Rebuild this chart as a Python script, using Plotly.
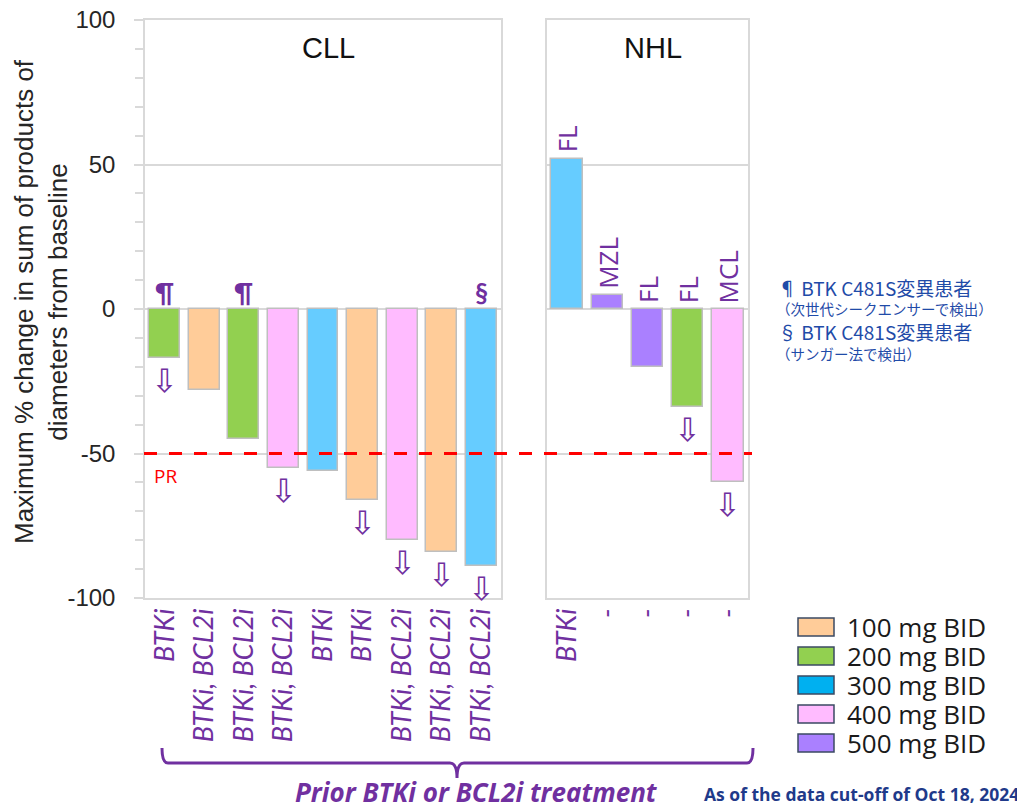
import plotly.graph_objects as go

# ---------------- data ----------------
cll_prior = ["BTKi", "BTKi, BCL2i", "BTKi, BCL2i", "BTKi, BCL2i", "BTKi",
             "BTKi", "BTKi, BCL2i", "BTKi, BCL2i", "BTKi, BCL2i"]
cll_values = [-17, -28, -45, -55, -56, -66, -80, -84, -89]
cll_dose = [200, 100, 200, 400, 300, 100, 400, 100, 300]
cll_marks = ["¶", "", "¶", "", "", "", "", "", "§"]
cll_ongoing = [True, False, False, True, False, True, True, True, True]

nhl_prior = ["BTKi", "-", "-", "-", "-"]
nhl_values = [52, 5, -20, -34, -60]
nhl_dose = [300, 500, 500, 200, 400]
nhl_histology = ["FL", "MZL", "FL", "FL", "MCL"]
nhl_ongoing = [False, False, False, True, True]

dose_levels = [100, 200, 300, 400, 500]
dose_labels = ["100 mg BID", "200 mg BID", "300 mg BID", "400 mg BID", "500 mg BID"]
y_ticks = [-100, -50, 0, 50, 100]
y_ticktext = ["-100", "-50", "0", "50", "100"]
pr_threshold = -50

# ---------------- styles ----------------
bar_colors = {100: "#FFCC99", 200: "#92D050", 300: "#66CCFF", 400: "#FFBBFF", 500: "#AA80FF"}
legend_colors = {100: "#FFCC99", 200: "#92D050", 300: "#00B0F0", 400: "#FFBBFF", 500: "#AA80FF"}
PURPLE = "#7030A0"
GRID = "#D9D9D9"
SANS = "Open Sans"
OFF = 8  # page body margin
W, H = 1025 - OFF, 805 - OFF


def px(x):
    return (x - OFF) / W


def py(y):
    return 1 - (y - OFF) / H


fig = go.Figure()

fig.add_trace(go.Bar(
    x=list(range(len(cll_values))), y=cll_values, width=0.78,
    marker=dict(color=[bar_colors[d] for d in cll_dose], line=dict(color="#BFBFBF", width=1.5)),
    xaxis="x", yaxis="y", showlegend=False, hoverinfo="y"))
fig.add_trace(go.Bar(
    x=list(range(len(nhl_values))), y=nhl_values, width=0.78,
    marker=dict(color=[bar_colors[d] for d in nhl_dose], line=dict(color="#BFBFBF", width=1.5)),
    xaxis="x2", yaxis="y2", showlegend=False, hoverinfo="y"))

xtickfont = dict(family="Lato", size=27, color=PURPLE, style="italic")
common_x = dict(showline=True, linecolor=GRID, linewidth=1.5, mirror=True, ticks="",
                showgrid=False, zeroline=False, tickangle=-90, tickfont=xtickfont,
                ticklabelstandoff=-2, automargin=False)
common_y = dict(range=[-100, 100], tickvals=y_ticks, showgrid=True, gridcolor=GRID, gridwidth=1.5,
                showline=True, linecolor=GRID, linewidth=1.5, mirror=True, zeroline=False,
                automargin=False)

fig.update_layout(
    width=W, height=H,
    margin=dict(l=0, r=0, t=0, b=0),
    paper_bgcolor="white", plot_bgcolor="white",
    bargap=0,
    xaxis=dict(domain=[px(145), px(501)], range=[-0.5, len(cll_values) - 0.5],
               tickvals=list(range(len(cll_values))), ticktext=cll_prior, anchor="y", **common_x),
    xaxis2=dict(domain=[px(547), px(748)], range=[-0.5, len(nhl_values) - 0.5],
                tickvals=list(range(len(nhl_values))), ticktext=nhl_prior, anchor="y2", **common_x),
    yaxis=dict(domain=[py(598), py(20)], anchor="x", ticktext=y_ticktext,
               tickfont=dict(family="Liberation Sans", size=24, color="#262626"),
               ticks="outside", ticklen=9, tickcolor=GRID, tickwidth=1.5, ticklabelstandoff=14,
               ticklabeloverflow="allow",
               minor=dict(dtick=10, ticks="outside", ticklen=8, tickcolor=GRID, tickwidth=1.5, showgrid=False),
               **common_y),
    yaxis2=dict(domain=[py(598), py(20)], anchor="x2", matches="y", showticklabels=False, ticks="",
                **common_y),
)

annotations = []
shapes = []

# PR threshold line across both panels
shapes.append(dict(type="line", xref="paper", yref="y", x0=px(144), x1=px(752),
                   y0=pr_threshold, y1=pr_threshold,
                   line=dict(color="#FF0000", width=3, dash="13px,12px")))
annotations.append(dict(text="PR", xref="paper", yref="y", x=px(165), y=pr_threshold,
                        yshift=-22, showarrow=False, xanchor="center", yanchor="middle",
                        font=dict(family=SANS, size=19, color="#FF0000")))

# Panel titles
annotations.append(dict(text="CLL", xref="paper", yref="paper", x=px(328), y=py(48),
                        showarrow=False, xanchor="center", yanchor="middle",
                        font=dict(family="Liberation Sans", size=29, color="#111111")))
annotations.append(dict(text="NHL", xref="paper", yref="paper", x=px(653), y=py(48),
                        showarrow=False, xanchor="center", yanchor="middle",
                        font=dict(family="Liberation Sans", size=29, color="#111111")))

# Y title
annotations.append(dict(text="Maximum % change in sum of products of<br>diameters from baseline",
                        xref="paper", yref="paper", x=px(41), y=py(302), textangle=-90,
                        showarrow=False, xanchor="center", yanchor="middle",
                        font=dict(family="Liberation Sans", size=26, color="#262626")))

ARROW_FONT = dict(family="DejaVu Sans", size=32, color=PURPLE)

# CLL marks and arrows
for i, v in enumerate(cll_values):
    if cll_marks[i]:
        annotations.append(dict(text="<b>" + cll_marks[i] + "</b>", xref="x", yref="y", x=i, y=0,
                                yshift=-1, showarrow=False, xanchor="center", yanchor="bottom",
                                font=dict(family="Lato", size=26, color=PURPLE)))
    if cll_ongoing[i]:
        annotations.append(dict(text="⇩", xref="x", yref="y", x=i, y=v, yshift=-2,
                                showarrow=False, xanchor="center", yanchor="top", font=ARROW_FONT))

# NHL histology labels and arrows
for i, v in enumerate(nhl_values):
    annotations.append(dict(text=nhl_histology[i], xref="x2", yref="y2", x=i, y=max(v, 0),
                            yshift=4, textangle=-90, showarrow=False, xanchor="center",
                            yanchor="bottom", font=dict(family=SANS, size=26, color=PURPLE)))
    if nhl_ongoing[i]:
        annotations.append(dict(text="⇩", xref="x2", yref="y2", x=i, y=v, yshift=-2,
                                showarrow=False, xanchor="center", yanchor="top", font=ARROW_FONT))

# Footnotes (right)
NAVY = "#1F4BA8"
notes = [
    dict(text="¶ BTK C481S変異患者", x=px(776), y=py(287), font=dict(size=19), height=22),
    dict(text="（次世代シークエンサーで検出）", x=px(774), y=py(308), font=dict(size=14.5), height=18),
    dict(text="§ BTK C481S変異患者", x=px(776), y=py(331), font=dict(size=19), height=22),
    dict(text="（サンガー法で検出）", x=px(774), y=py(353), font=dict(size=14.5), height=18),
]
for a in notes:
    a.update(xref="paper", yref="paper", showarrow=False, xanchor="left", yanchor="middle")
    a["font"].update(family="Noto Sans CJK JP", color=NAVY)
annotations += notes

# Legend (custom)
for k, (d, lab) in enumerate(zip(dose_levels, dose_labels)):
    cy = 627 + k * 29
    shapes.append(dict(type="rect", xref="paper", yref="paper",
                       x0=px(798), x1=px(834), y0=py(cy - 9), y1=py(cy + 9),
                       fillcolor=legend_colors[d], line=dict(color="#3B4A63", width=1.5)))
    annotations.append(dict(text=lab, xref="paper", yref="paper", x=px(845), y=py(cy),
                            showarrow=False, xanchor="left", yanchor="middle",
                            font=dict(family=SANS, size=26, color="#1A1A1A")))

# Brace
bx = [162, 457, 753]
by_top, by_line, by_tip = 748, 763, 778
path = (f"M {px(bx[0])},{py(by_top)} Q {px(bx[0])},{py(by_line)} {px(bx[0]+6)},{py(by_line)} "
        f"L {px(bx[1]-7)},{py(by_line)} Q {px(bx[1])},{py(by_line)} {px(bx[1])},{py(by_tip)} "
        f"Q {px(bx[1])},{py(by_line)} {px(bx[1]+7)},{py(by_line)} "
        f"L {px(bx[2]-6)},{py(by_line)} Q {px(bx[2])},{py(by_line)} {px(bx[2])},{py(by_top)}")
shapes.append(dict(type="path", xref="paper", yref="paper", path=path,
                   line=dict(color=PURPLE, width=3)))
annotations.append(dict(text="<b><i>Prior BTKi or BCL2i treatment</i></b>", xref="paper", yref="paper",
                        x=px(476), y=py(792), showarrow=False, xanchor="center", yanchor="middle",
                        font=dict(family=SANS, size=26, color=PURPLE)))

annotations.append(dict(text="<b>As of the data cut-off of Oct 18, 2024</b>", xref="paper", yref="paper",
                        x=px(1021), y=py(794), showarrow=False, xanchor="right", yanchor="middle",
                        font=dict(family=SANS, size=17.5, color="#1F3A8A")))

fig.update_layout(annotations=annotations, shapes=shapes)
fig.write_html("out.html")
